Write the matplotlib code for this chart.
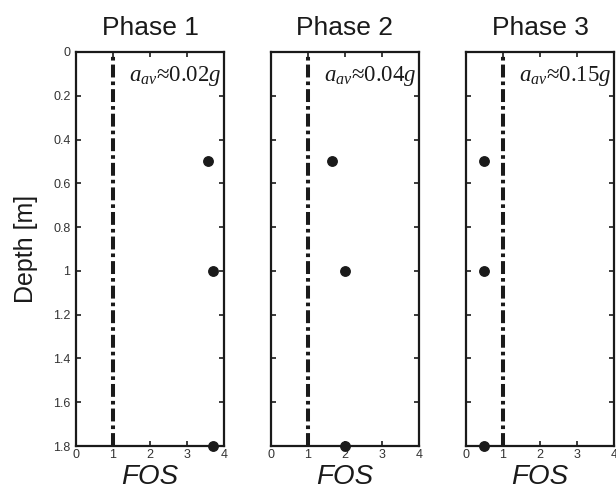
import matplotlib
matplotlib.use("Agg")
import matplotlib.pyplot as plt

phases = ["Phase 1", "Phase 2", "Phase 3"]
accel_labels = ["0.02", "0.04", "0.15"]
depths = [0.5, 1.0, 1.8]
fos_phase1 = [3.58, 3.70, 3.70]
fos_phase2 = [1.66, 2.01, 2.00]
fos_phase3 = [0.48, 0.48, 0.48]
fos_values = [fos_phase1, fos_phase2, fos_phase3]
fos_threshold = 1.0
xticks = [0, 1, 2, 3, 4]
yticks = [0, 0.2, 0.4, 0.6, 0.8, 1.0, 1.2, 1.4, 1.6, 1.8]
ytick_labels = ["0", "0.2", "0.4", "0.6", "0.8", "1", "1.2", "1.4", "1.6", "1.8"]

plt.rcParams['font.family'] = ['Liberation Sans', 'DejaVu Sans']
plt.rcParams['mathtext.fontset'] = 'custom'
plt.rcParams['mathtext.rm'] = 'Liberation Serif'
plt.rcParams['mathtext.it'] = 'Liberation Serif:italic'

W, H = 616, 494
fig = plt.figure(figsize=(W / 100, H / 100), dpi=100)

lefts = [76, 271, 466]
ax_w = 148
top, bottom = 52, 446
ink = "#1a1a1a"

for i, (name, acc, fos) in enumerate(zip(phases, accel_labels, fos_values)):
    ax = fig.add_axes([lefts[i] / W, 1 - bottom / H, ax_w / W, (bottom - top) / H])
    ax.axvline(fos_threshold, color=ink, lw=2.9, dashes=(3.2, 1.0, 0.9, 1.0), zorder=2)
    ax.plot(fos, depths, 'o', color=ink, ms=6.8, clip_on=False, zorder=3)
    ax.set_xlim(0, 4)
    ax.set_ylim(1.8, 0)
    ax.set_xticks(xticks)
    ax.set_yticks(yticks)
    ax.tick_params(direction='in', top=True, right=True, length=3.5, width=1.2,
                   labelsize=9, labelcolor='#333333', pad=2, color=ink)
    ax.tick_params(axis='y', pad=4)
    if i == 0:
        ax.set_yticklabels(ytick_labels)
    else:
        ax.set_yticklabels([])
    for s in ax.spines.values():
        s.set_linewidth(1.6)
        s.set_color(ink)
    ax.set_title(name, fontsize=19, color=ink, pad=12)
    ax.set_xlabel("FOS", fontsize=20, style='italic', color=ink, labelpad=2)
    ax.text(0.985, 0.94, r"$a_{av}$≈" + acc + r"$g$", transform=ax.transAxes,
            ha='right', va='center', fontsize=16.5, family='Liberation Serif', color=ink)
    if i == 0:
        ax.set_ylabel("Depth [m]", fontsize=18, color=ink)
        ax.yaxis.set_label_coords(-0.255, 0.5)

fig.savefig("out.png", dpi=100)
